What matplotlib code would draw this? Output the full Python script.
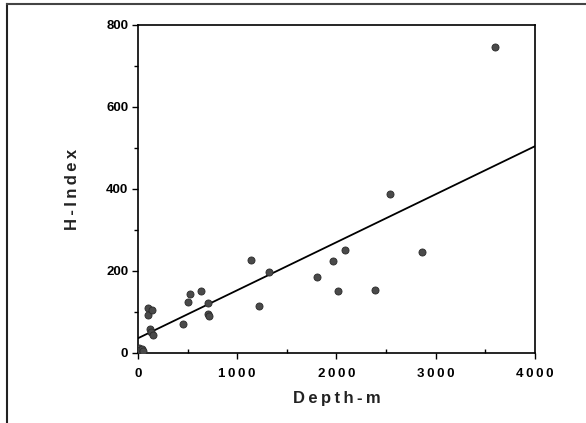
import numpy as np
import matplotlib.pyplot as plt
from matplotlib.ticker import MultipleLocator, FuncFormatter
from matplotlib.lines import Line2D

# depth (m) vs H-index
depth = [10, 25, 40, 55, 97, 104, 144, 118, 135, 150, 457, 507, 521, 635,
         709, 709, 712, 1139, 1219, 1320, 1807, 1965, 2012, 2083, 2385,
         2536, 2865, 3600]
h_index = [12, 8, 10, 6, 110, 93, 106, 58, 52, 45, 71, 124, 145, 151,
           121, 94, 90, 228, 115, 198, 185, 224, 150, 250, 153,
           387, 246, 747]

# regression line as drawn
fit_intercept = 36
fit_slope = 0.117
fit_range = [0, 4000]

TS = '\u2009'  # thin space for the wide letter tracking of the original


def spaced(s):
    return TS.join(s)


plt.rcParams['font.family'] = ['Liberation Sans', 'DejaVu Sans']

fig = plt.figure(figsize=(5.86, 4.23), dpi=100)
ax = fig.add_axes([0.2355, 0.1655, 0.677, 0.7755])

ax.scatter(depth, h_index, s=26, color='#4a4a4a', edgecolors='#2a2a2a',
           linewidths=0.6, zorder=3)
xs = np.array(fit_range)
ax.plot(xs, fit_intercept + fit_slope * xs, color='black', lw=1.3, zorder=2)

ax.set_xlim(0, 4000)
ax.set_ylim(0, 800)
ax.xaxis.set_major_locator(MultipleLocator(1000))
ax.xaxis.set_minor_locator(MultipleLocator(500))
ax.yaxis.set_major_locator(MultipleLocator(200))
ax.yaxis.set_minor_locator(MultipleLocator(100))
ax.xaxis.set_major_formatter(FuncFormatter(lambda v, p: spaced(str(int(v)))))

ax.tick_params(axis='both', which='major', direction='out', length=4,
               width=1, labelsize=9.5, pad=3)
ax.tick_params(axis='x', which='major', pad=7)
ax.tick_params(axis='x', which='minor', direction='in', length=3, width=1)
ax.tick_params(axis='y', which='minor', direction='out', length=3, width=1)
for lab in ax.get_xticklabels() + ax.get_yticklabels():
    lab.set_fontweight('bold')

for sp in ax.spines.values():
    sp.set_linewidth(1.2)

ax.set_xlabel(spaced('Depth-m'), fontsize=12, fontweight='bold', labelpad=8,
              color='#222222')
ax.set_ylabel(spaced('H-Index'), fontsize=12, fontweight='bold', labelpad=19,
              color='#222222')

# page frame lines (top and left) from the scan
fig.add_artist(Line2D([0.012, 0.012], [0, 0.99], transform=fig.transFigure,
                      color='#222222', lw=1.5))
fig.add_artist(Line2D([0.012, 1.0], [0.99, 0.99], transform=fig.transFigure,
                      color='#444444', lw=1.5))

fig.savefig('out.png', dpi=100)
